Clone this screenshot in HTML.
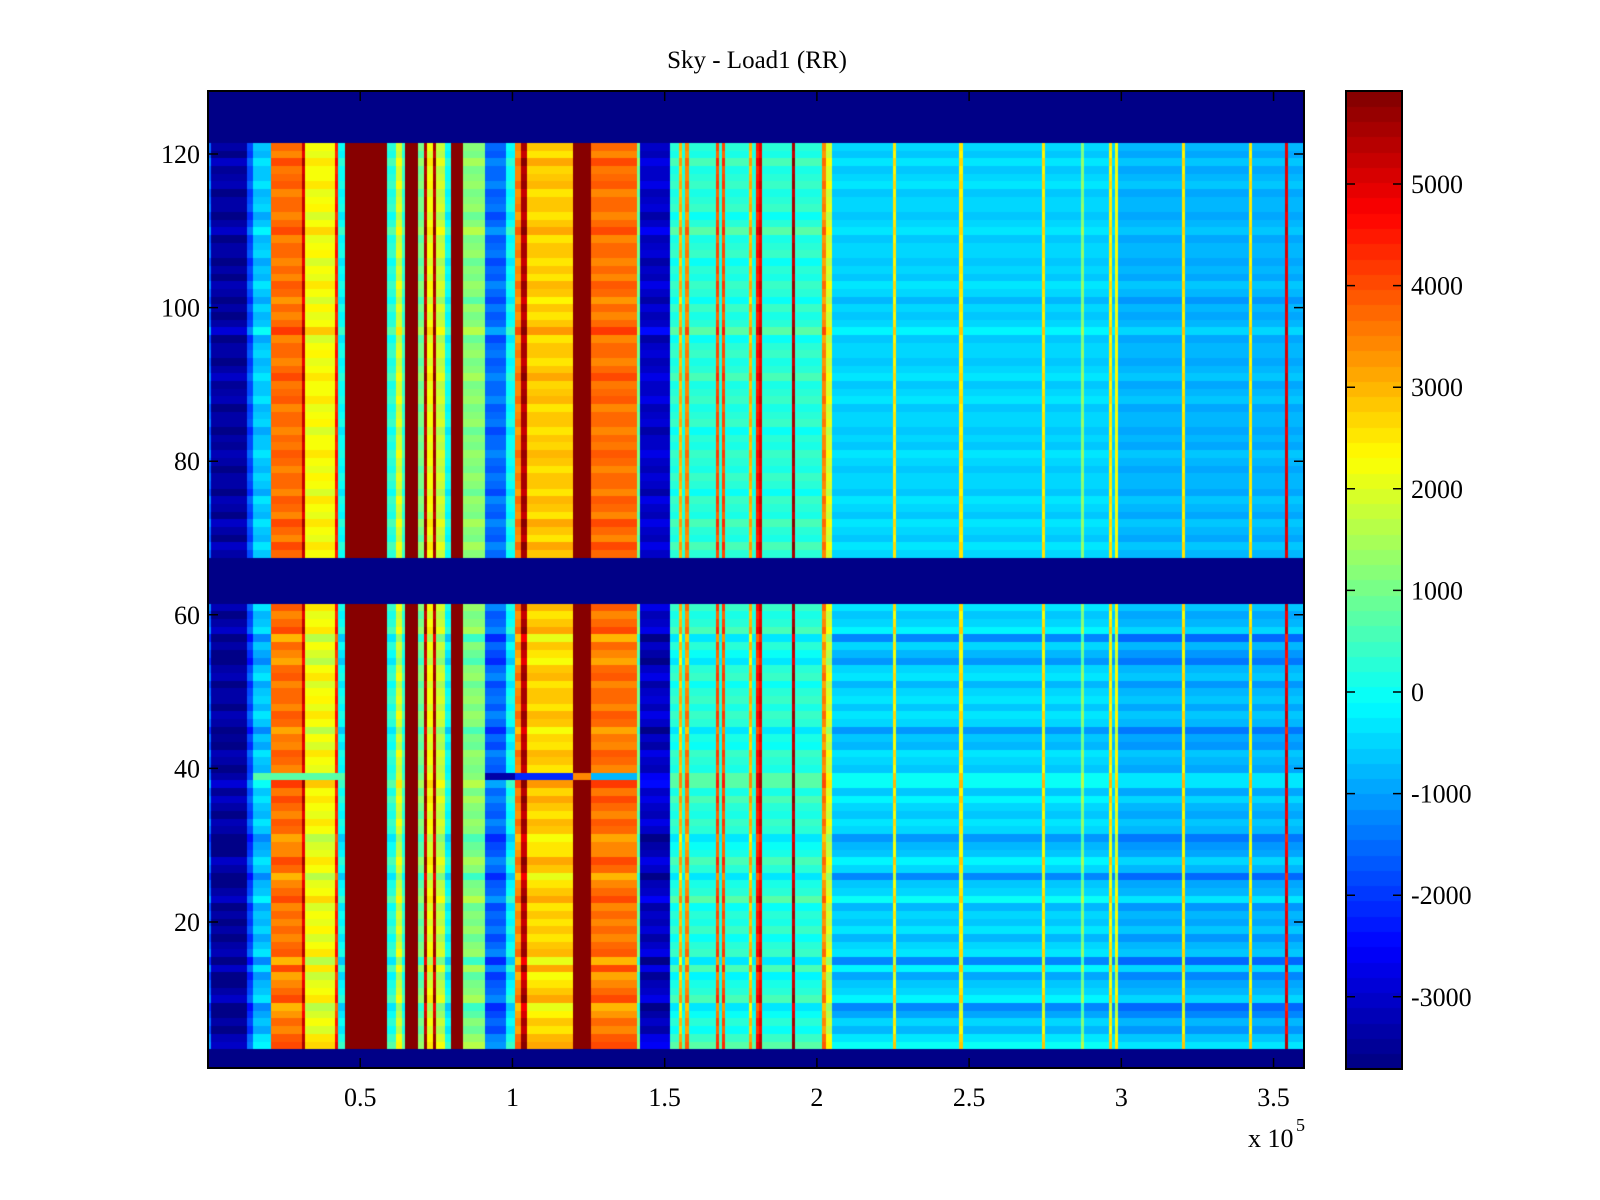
<!DOCTYPE html>
<html><head><meta charset="utf-8"><style>
html,body{margin:0;padding:0;background:#fff;}
#wrap{position:relative;width:1600px;height:1200px;overflow:hidden;}
canvas,svg{position:absolute;left:0;top:0;}
text{font-family:"Liberation Serif",serif;fill:#000;}
</style></head><body>
<div id="wrap">
<canvas id="cv" width="1600" height="1200"></canvas>
<svg id="sv" width="1600" height="1200"></svg>
</div>
<script>
// ---- data (x in thousands, values in colour units) ----
const segStartK = [0,1,13,15,21,31,32,42,43,45,59,62,64,65,69,71,72,74,75,78,80,84,91,98,101,103,105,120,126,141,142,152,155,156,157,158,167,168,169,170,178,179,180,181,182,192,193,202,203,205,225,226,247,248,274,275,287,288,296,297,298,299,320,321,342,343,354,355];
const segValue  = [-1500,-3400,-1800,-600,3700,5200,2300,4500,0,6000,300,2000,500,6000,1000,5500,2200,5500,1800,0,6000,1200,-1500,0,3500,5500,2800,6000,3700,1000,-3000,300,3000,300,3500,300,4000,300,4000,300,3000,300,4500,5000,300,5500,300,3500,2000,-500,2500,-500,2500,-500,2500,-500,1200,-500,2500,-500,2200,-800,2500,-800,2500,-800,5000,-800];
const rowOffset = [0,0,0,400,200,-300,0,-400,-700,300,0,-200,-500,300,-700,200,0,-300,100,-200,0,-300,400,0,-200,-700,0,300,-200,-300,-600,0,200,-200,0,300,-100,500,0,-200,0,200,-300,-100,-600,0,200,-200,100,0,-300,200,0,-600,-300,0,-700,300,0,-200,200,0,0,0,0,0,0,0,300,-200,0,300,-200,0,200,-300,0,100,-200,0,200,-100,0,-300,100,0,-200,200,0,-100,300,0,-200,100,0,-300,500,0,-200,100,-400,0,200,-200,0,-300,100,0,-200,400,0,-300,100,0,-200,200,0,-100,300,-200,0,0,0,0,0,0,0,0];
const blankBandStart = [1,62,122];
const blankBandEnd   = [3,67,128];
const row39Start = [15,45,91,101,120,126,141];
const row39Value = [800,null,-3300,-2200,3500,-800,null];
const xTicks = [0.5,1,1.5,2,2.5,3,3.5];
const yTicks = [20,40,60,80,100,120];
const cbTicks = [-3000,-2000,-1000,0,1000,2000,3000,4000,5000];
const cMin = -3710, cMax = 5915;
const nCols = 360, nRows = 128;

// ---- geometry ----
const PL=208, PR=1304, PT=91, PB=1068;
const xPx = k => PL + k*(PR-PL)/360;
const yPx = v => 922 - (v-20)*7.68;
const cbY = v => 184 + (5000-v)*0.1016;
const CBL=1346, CBR=1402, CBT=91, CBB=1069;

function jet(t){
  t=Math.max(0,Math.min(1,t));
  const idx=Math.min(63,Math.floor(t*64)); t=(idx+0.5)/64;
  const f=x=>Math.max(0,Math.min(1,x));
  const r=f(Math.min(4*t-1.5,-4*t+4.5)), g=f(Math.min(4*t-0.5,-4*t+3.5)), b=f(Math.min(4*t+0.5,-4*t+2.5));
  return 'rgb('+Math.round(r*255)+','+Math.round(g*255)+','+Math.round(b*255)+')';
}
function colBase(c){
  let v=segValue[0];
  for(let i=0;i<segStartK.length;i++){ if(c>=segStartK[i]) v=segValue[i]; }
  return v;
}
function inBand(r){
  for(let i=0;i<blankBandStart.length;i++) if(r>=blankBandStart[i]&&r<=blankBandEnd[i]) return true;
  return false;
}
function cellValue(c,r){
  if(inBand(r)) return cMin;
  let b=colBase(c);
  if(r===39){
    let o=null;
    for(let i=0;i<row39Start.length;i++) if(c>=row39Start[i]) o=row39Value[i];
    if(c<15) o=null;
    if(o!==null) return o;
    if(c>=142) return b+400;
  }
  if(b>=5800) return b;
  let off=rowOffset[r-1];
  if(c>=205 && r>67) off*=0.6;
  return b+off;
}
const cv=document.getElementById('cv'); const ctx=cv.getContext('2d');
ctx.save(); ctx.beginPath(); ctx.rect(PL,PT,PR-PL,PB-PT); ctx.clip();
for(let r=1;r<=nRows;r++){
  const y0=yPx(r+0.5), y1=yPx(r-0.5);
  for(let c=0;c<nCols;c++){
    const v=cellValue(c,r);
    ctx.fillStyle=jet((v-cMin)/(cMax-cMin));
    const x0=xPx(c), x1=xPx(c+1);
    ctx.fillRect(Math.floor(x0),Math.floor(y0),Math.ceil(x1)-Math.floor(x0),Math.ceil(y1)-Math.floor(y0));
  }
}
ctx.restore();
// colourbar
for(let i=0;i<64;i++){
  const ya=CBB-(CBB-CBT)*(i+1)/64, yb=CBB-(CBB-CBT)*i/64;
  ctx.fillStyle=jet((i+0.5)/64);
  ctx.fillRect(CBL,Math.floor(ya),CBR-CBL,Math.ceil(yb)-Math.floor(ya));
}

// ---- svg overlay ----
const NS='http://www.w3.org/2000/svg'; const sv=document.getElementById('sv');
function mk(tag,attrs,txt){const e=document.createElementNS(NS,tag);for(const k in attrs)e.setAttribute(k,attrs[k]);if(txt!==undefined)e.textContent=txt;sv.appendChild(e);return e;}
let e;
e=mk('rect',{x:PL,y:PT,width:PR-PL,height:PB-PT,fill:'none',stroke:'#000','stroke-width':2});


e=mk('rect',{x:CBL,y:CBT,width:CBR-CBL,height:CBB-CBT,fill:'none',stroke:'#000','stroke-width':2});


e=mk('text',{x:757,y:68,'font-size':25,'text-anchor':'middle'},'Sky - Load1 (RR)');


xTicks.forEach(t=>{
  const x=xPx(t*100);
  e=mk('path',{d:`M${x},${PB}v-10M${x},${PT}v10`,stroke:'#000','stroke-width':1.5});
  
  
  e=mk('text',{x:x,y:1106,'font-size':26,'text-anchor':'middle'},String(t));
  
  
});
yTicks.forEach(t=>{
  const y=yPx(t);
  e=mk('path',{d:`M${PL},${y}h10M${PR},${y}h-10`,stroke:'#000','stroke-width':1.5});
  
  
  e=mk('text',{x:200,y:y+9,'font-size':26,'text-anchor':'end'},String(t));
  
  
});
cbTicks.forEach(t=>{
  const y=cbY(t);
  e=mk('path',{d:`M${CBL},${y}h9M${CBR},${y}h-9`,stroke:'#000','stroke-width':1.5});
  
  
  e=mk('text',{x:1411,y:y+9,'font-size':26},String(t));
  
  
});
e=mk('text',{x:1248,y:1147,'font-size':26},'x 10');


e=mk('text',{x:1296,y:1131,'font-size':18},'5');


</script>
</body></html>
